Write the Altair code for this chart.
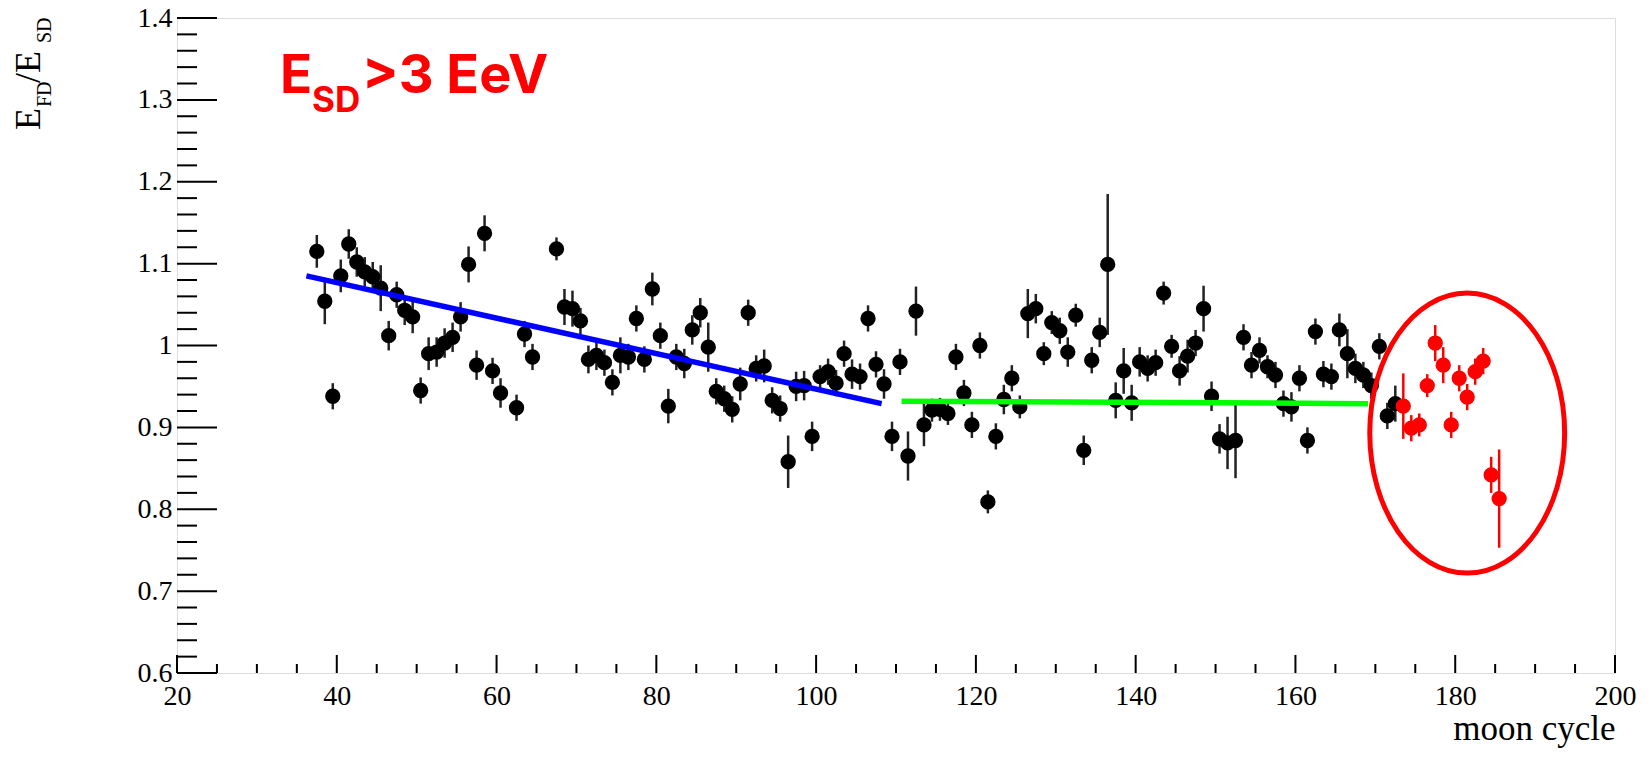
import altair as alt
import pandas as pd

# ---- data ----
black_x = [37.5, 38.5, 39.5, 40.5, 41.5, 42.5, 43.5, 44.5, 45.5, 46.5, 47.5, 48.5, 49.5,
           50.5, 51.5, 52.5, 53.5, 54.5, 55.5, 56.5, 57.5, 58.5, 59.5, 60.5, 62.5, 63.5,
           64.5, 67.5, 68.5, 69.5, 70.5, 71.5, 72.5, 73.5, 74.5, 75.5, 76.5, 77.5, 78.5,
           79.5, 80.5, 81.5, 82.5, 83.5, 84.5, 85.5, 86.5, 87.5, 88.5, 89.5, 90.5, 91.5,
           92.5, 93.5, 94.5, 95.5, 96.5, 97.5, 98.5, 99.5, 100.5, 101.5, 102.5, 103.5,
           104.5, 105.5, 106.5, 107.5, 108.5, 109.5, 110.5, 111.5, 112.5, 113.5, 114.5,
           115.5, 116.5, 117.5, 118.5, 119.5, 120.5, 121.5, 122.5, 123.5, 124.5, 125.5,
           126.5, 127.5, 128.5, 129.5, 130.5, 131.5, 132.5, 133.5, 134.5, 135.5, 136.5,
           137.5, 138.5, 139.5, 140.5, 141.5, 142.5, 143.5, 144.5, 145.5, 146.5, 147.5,
           148.5, 149.5, 150.5, 151.5, 152.5, 153.5, 154.5, 155.5, 156.5, 157.5, 158.5,
           159.5, 160.5, 161.5, 162.5, 163.5, 164.5, 165.5, 166.5, 167.5, 168.5, 169.5,
           170.5, 171.5, 172.5]
black_y = [1.115, 1.054, 0.938, 1.085, 1.124, 1.102, 1.090, 1.084, 1.070, 1.012, 1.062, 1.043, 1.035,
           0.945, 0.990, 0.992, 1.003, 1.010, 1.035, 1.099, 0.976, 1.137, 0.969, 0.942, 0.924, 1.014,
           0.986, 1.118, 1.047, 1.045, 1.030, 0.983, 0.988, 0.979, 0.955, 0.988, 0.986, 1.033, 0.983,
           1.069, 1.012, 0.926, 0.986, 0.978, 1.019, 1.040, 0.998, 0.944, 0.935, 0.922, 0.953, 1.040,
           0.972, 0.975, 0.933, 0.923, 0.858, 0.950, 0.951, 0.889, 0.962, 0.968, 0.954, 0.990,
           0.965, 0.962, 1.033, 0.977, 0.953, 0.889, 0.980, 0.865, 1.042, 0.903, 0.921,
           0.922, 0.917, 0.986, 0.942, 0.903, 1.000, 0.809, 0.889, 0.934, 0.960, 0.925,
           1.039, 1.045, 0.990, 1.028, 1.018, 0.992, 1.037, 0.872, 0.982, 1.016, 1.099,
           0.933, 0.969, 0.930, 0.980, 0.972, 0.979, 1.064, 0.999, 0.969, 0.987, 1.003,
           1.045, 0.938, 0.886, 0.881, 0.884, 1.010, 0.976, 0.994, 0.974, 0.964, 0.929,
           0.925, 0.960, 0.884, 1.017, 0.965, 0.962, 1.019, 0.990, 0.972, 0.964, 0.951,
           0.999, 0.914, 0.929]
black_err = [0.020, 0.028, 0.016, 0.020, 0.018, 0.018, 0.018, 0.018, 0.028, 0.018, 0.016, 0.018, 0.020,
             0.016, 0.020, 0.018, 0.018, 0.018, 0.018, 0.022, 0.018, 0.022, 0.016, 0.018, 0.016, 0.016,
             0.016, 0.014, 0.022, 0.022, 0.016, 0.017, 0.018, 0.016, 0.016, 0.022, 0.016, 0.016, 0.016,
             0.020, 0.016, 0.021, 0.016, 0.018, 0.018, 0.018, 0.030, 0.016, 0.016, 0.016, 0.020, 0.016,
             0.016, 0.020, 0.016, 0.016, 0.032, 0.018, 0.018, 0.018, 0.014, 0.016, 0.016, 0.016,
             0.018, 0.016, 0.016, 0.016, 0.018, 0.018, 0.016, 0.030, 0.030, 0.026, 0.014,
             0.014, 0.014, 0.016, 0.016, 0.016, 0.016, 0.014, 0.016, 0.018, 0.016, 0.014,
             0.030, 0.018, 0.014, 0.014, 0.016, 0.018, 0.014, 0.018, 0.016, 0.018, 0.086,
             0.022, 0.028, 0.022, 0.018, 0.016, 0.016, 0.014, 0.014, 0.018, 0.020, 0.016,
             0.028, 0.018, 0.018, 0.032, 0.046, 0.016, 0.016, 0.016, 0.014, 0.016, 0.016,
             0.018, 0.016, 0.016, 0.016, 0.016, 0.016, 0.020, 0.030, 0.018, 0.016, 0.016,
             0.016, 0.016, 0.022]

red_x = [173.5, 174.5, 175.5, 176.5, 177.5, 178.5, 179.5, 180.5, 181.5, 182.5, 183.5, 184.5, 185.5]
red_y = [0.926, 0.899, 0.903, 0.951, 1.003, 0.976, 0.903, 0.960, 0.937, 0.968, 0.981, 0.842, 0.813]
red_err = [0.040, 0.016, 0.014, 0.014, 0.022, 0.022, 0.016, 0.016, 0.016, 0.016, 0.016, 0.022, 0.060]

blue_fit_x = [36.2, 108.2]
blue_fit_y = [1.085, 0.929]
green_fit_x = [110.7, 169.1]
green_fit_y = [0.932, 0.929]

x_major = [20, 40, 60, 80, 100, 120, 140, 160, 180, 200]
x_minor = [25, 30, 35, 45, 50, 55, 65, 70, 75, 85, 90, 95, 105, 110, 115, 125, 130, 135,
           145, 150, 155, 165, 170, 175, 185, 190, 195]
y_major = [0.6, 0.7, 0.8, 0.9, 1.0, 1.1, 1.2, 1.3, 1.4]
y_minor = [0.62, 0.64, 0.66, 0.68, 0.72, 0.74, 0.76, 0.78, 0.82, 0.84, 0.86, 0.88,
           0.92, 0.94, 0.96, 0.98, 1.02, 1.04, 1.06, 1.08, 1.12, 1.14, 1.16, 1.18,
           1.22, 1.24, 1.26, 1.28, 1.32, 1.34, 1.36, 1.38]

W, H = 1438, 655
SERIF = "Liberation Serif"

xs = alt.Scale(domain=[20, 200], nice=False, zero=False)
ys = alt.Scale(domain=[0.6, 1.4], nice=False, zero=False)
xaxis = alt.Axis(values=x_major, format="d", labelFont=SERIF, labelFontSize=28, labelColor="black",
                 labelPadding=9, labelFlush=False, domain=False, ticks=False, tickSize=0, grid=False,
                 title="moon cycle", titleFont=SERIF, titleFontSize=35, titleFontWeight="normal",
                 titleColor="black", titleAnchor="end", titleAlign="right", titleBaseline="alphabetic",
                 titleX=W, titleY=66)
yaxis = alt.Axis(values=y_major, format="~g", labelFont=SERIF, labelFontSize=28, labelColor="black",
                 labelPadding=5, labelFlush=False, domain=False, ticks=False, tickSize=0, grid=False,
                 title="")

def X(f="x"):
    return alt.X(f"{f}:Q", scale=xs, axis=xaxis)

def Y(f="y"):
    return alt.Y(f"{f}:Q", scale=ys, axis=yaxis)

black = pd.DataFrame({"x": black_x, "y": black_y, "e": black_err})
red = pd.DataFrame({"x": red_x, "y": red_y, "e": red_err})

def errbars(df, color):
    return alt.Chart(df).transform_calculate(
        lo="datum.y - datum.e", hi="datum.y + datum.e"
    ).mark_rule(color=color, strokeWidth=2.5).encode(x=X(), y=Y("lo"), y2="hi:Q")

def dots(df, color):
    return alt.Chart(df).mark_circle(color=color, size=235, opacity=1).encode(x=X(), y=Y())

blue = alt.Chart(pd.DataFrame({"x": blue_fit_x, "y": blue_fit_y})).mark_line(
    color="#0000ff", strokeWidth=5.5).encode(x=X(), y=Y())
green = alt.Chart(pd.DataFrame({"x": green_fit_x, "y": green_fit_y})).mark_line(
    color="#00ff00", strokeWidth=5.5).encode(x=X(), y=Y())

ellipse_path = "M -0.696 0 A 0.696 1 0 1 0 0.696 0 A 0.696 1 0 1 0 -0.696 0 Z"
ellipse = alt.Chart(pd.DataFrame({"x": [181.5], "y": [0.893]})).mark_point(
    shape=ellipse_path, size=78400, filled=False, strokeWidth=5, color="#ff0000", opacity=1
).encode(x=X(), y=Y())

# inward ROOT-style ticks
xt_major = alt.Chart(pd.DataFrame({"x": x_major})).mark_rule(color="black", strokeWidth=2).encode(
    x=X(), y=alt.value(H), y2=alt.value(H - 18))
xt_minor = alt.Chart(pd.DataFrame({"x": x_minor})).mark_rule(color="black", strokeWidth=2).encode(
    x=X(), y=alt.value(H), y2=alt.value(H - 9))
yt_major = alt.Chart(pd.DataFrame({"y": y_major})).mark_rule(color="black", strokeWidth=2).encode(
    y=Y(), x=alt.value(0), x2=alt.value(40))
yt_minor = alt.Chart(pd.DataFrame({"y": y_minor})).mark_rule(color="black", strokeWidth=2).encode(
    y=Y(), x=alt.value(0), x2=alt.value(20))

# red annotation E_SD>3 EeV
one = pd.DataFrame({"k": [0]})
RED = "#ff0000"
SANS = "Inter"

def red_text(txt, size, dx, dy):
    return alt.Chart(one).mark_text(text=txt, font=SANS, fontWeight="bold", fontSize=size, color=RED,
                                    align="left", baseline="alphabetic", dx=dx, dy=dy).encode(
        x=alt.datum(32.9, scale=xs), y=alt.datum(1.3084, scale=ys))

t_E = red_text("E", 53, 0, 0)
t_SD = red_text("SD", 35, 32, 19)
t_rest = red_text(">3 EeV", 54, 82, 0)

# y axis title E_FD / E_SD (rotated)
def ytitle(txt, size, px, py):
    return alt.Chart(one).mark_text(text=txt, font=SERIF, fontSize=size, color="black", angle=270,
                                    align="left", baseline="alphabetic").encode(
        x=alt.value(px), y=alt.value(py))

yt1 = ytitle("E", 36, -137, 112)
yt2 = ytitle("FD", 20, -126, 89)
yt3 = ytitle("/E", 36, -137, 65)
yt4 = ytitle("SD", 20, -126, 25)

chart = alt.layer(
    errbars(black, "#222222"), dots(black, "black"),
    errbars(red, RED), dots(red, RED),
    blue, green, ellipse,
    xt_major, xt_minor, yt_major, yt_minor,
    t_E, t_SD, t_rest, yt1, yt2, yt3, yt4,
).properties(
    width=W, height=H,
    autosize=alt.AutoSizeParams(type="none"),
    padding={"left": 177, "top": 18, "right": 36, "bottom": 86},
).configure_view(stroke="#1a1a1a", strokeWidth=2.5).configure(background="white")

chart.save("out.html", embed_options={"renderer": "svg", "actions": False})
